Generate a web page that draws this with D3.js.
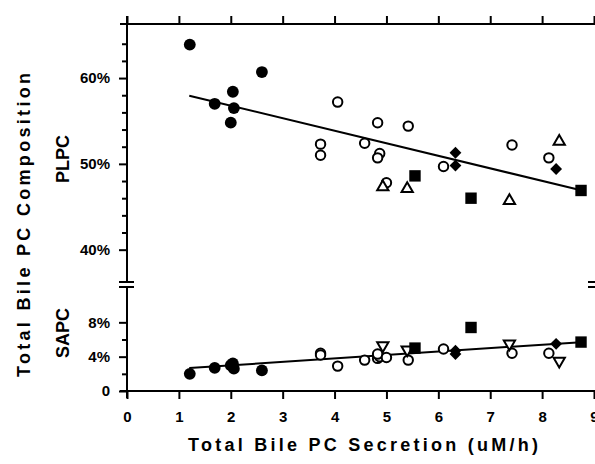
<!DOCTYPE html>
<html lang="en">
<head>
<meta charset="UTF-8">
<title>Bile PC composition vs secretion</title>
<script src="https://d3js.org/d3.v7.min.js"></script>
<style>
    body { margin: 0; background: #fff; overflow: hidden; }
    svg { display: block; font-family: "Liberation Sans", Arial, sans-serif; }
    .tick text { font-weight: bold; font-size: 15px; fill: #000; }
    .tick line { stroke: #000; stroke-width: 2px; }
    .lbl { font-weight: bold; fill: #000; }
</style>
</head>
<body>
<script>
// values: x = secretion (uM/h), plpc / sapc in %
const circleX    = [1.21, 1.69, 2.04, 2.06, 2.00, 2.60];
const circlePLPC = [63.9, 57.0, 58.4, 56.5, 54.8, 60.7];
const circleSAPC = [2.0, 2.7, 3.2, 2.6, 3.0, 2.4];

const openX    = [3.73, 3.73, 4.06, 4.58, 4.83, 4.87, 4.83, 5.00, 5.42, 6.10, 7.42, 8.13];
const openPLPC = [52.3, 51.0, 57.2, 52.4, 54.8, 51.2, 50.7, 47.8, 54.4, 49.7, 52.2, 50.7];
const openSAPC = [4.4, 4.2, 2.9, 3.6, 3.8, 4.0, 4.3, 3.9, 3.6, 4.9, 4.4, 4.4];

const triX    = [4.93, 5.40, 7.37, 8.33];
const triPLPC = [47.3, 47.1, 45.7, 52.6];
const triSAPC = [5.3, 4.8, 5.5, 3.5];

const squareX    = [5.55, 6.63, 8.75];
const squarePLPC = [48.6, 46.0, 46.9];
const squareSAPC = [5.0, 7.4, 5.7];

const diamondX    = [6.33, 6.33, 8.27];
const diamondPLPC = [51.3, 49.8, 49.4];
const diamondSAPC = [4.7, 4.3, 5.5];

// fitted lines: [intercept, slope], drawn over fitRange
const fitPLPC = [59.7, -1.46];
const fitSAPC = [2.19, 0.40];
const fitRange = [1.2, 8.75];

const xTicks = [0, 1, 2, 3, 4, 5, 6, 7, 8, 9];
const plpcMajor = [40, 50, 60];
const plpcMinor = [42, 44, 46, 48, 52, 54, 56, 58, 62, 64];
const sapcMajor = [0, 4, 8];
const sapcMinor = [2, 6];

const width = 595, height = 464;
const svg = d3.select("body").append("svg")
    .attr("width", width).attr("height", height);

const x = d3.scaleLinear().domain([0, 9]).range([127, 594]);
const yTop = d3.scaleLinear().domain([36, 66.3]).range([284, 24]);
const yBot = d3.scaleLinear().domain([0, 12]).range([391, 288]);

const topY = 24, breakA = 282, breakB = 287, baseY = 391;
const axisX = x(0);

// ---- axes ----
function tidy(g) { g.select(".domain").remove(); }

svg.append("g").attr("transform", `translate(${axisX},0)`)
    .call(d3.axisLeft(yTop).tickValues(plpcMajor).tickSize(8).tickPadding(9).tickFormat(d => d + "%"))
    .call(tidy);
svg.append("g").attr("transform", `translate(${axisX},0)`)
    .call(d3.axisLeft(yTop).tickValues(plpcMinor).tickSize(5).tickFormat(""))
    .call(tidy);
svg.append("g").attr("transform", `translate(${axisX},0)`)
    .call(d3.axisLeft(yBot).tickValues(sapcMajor).tickSize(8).tickPadding(9).tickFormat(d => d === 0 ? "0" : d + "%"))
    .call(tidy);
svg.append("g").attr("transform", `translate(${axisX},0)`)
    .call(d3.axisLeft(yBot).tickValues(sapcMinor).tickSize(5).tickFormat(""))
    .call(tidy);

svg.append("g").attr("transform", `translate(0,${baseY})`)
    .call(d3.axisBottom(x).tickValues(xTicks).tickSize(8).tickPadding(12).tickFormat(d3.format("d")))
    .call(tidy);
svg.append("g").attr("transform", `translate(0,${topY})`)
    .call(d3.axisTop(x).tickValues(xTicks).tickSize(8).tickFormat(""))
    .call(tidy);

const ax = svg.append("g").attr("stroke", "#000").attr("stroke-width", 2);
ax.append("line").attr("x1", axisX).attr("x2", axisX).attr("y1", topY - 8).attr("y2", breakA);
ax.append("line").attr("x1", axisX).attr("x2", axisX).attr("y1", breakB).attr("y2", baseY + 7);
ax.append("line").attr("x1", axisX - 7).attr("x2", width).attr("y1", topY).attr("y2", topY);
ax.append("line").attr("x1", axisX - 7).attr("x2", width).attr("y1", baseY).attr("y2", baseY);
[breakA, breakB].forEach(b => {
    ax.append("line").attr("x1", axisX - 8).attr("x2", axisX + 7).attr("y1", b).attr("y2", b);
    ax.append("line").attr("x1", width - 7).attr("x2", width).attr("y1", b).attr("y2", b);
});

// ---- fitted lines ----
function fitLine(fit, y) {
    svg.append("line")
        .attr("x1", x(fitRange[0])).attr("y1", y(fit[0] + fit[1] * fitRange[0]))
        .attr("x2", x(fitRange[1])).attr("y2", y(fit[0] + fit[1] * fitRange[1]))
        .attr("stroke", "#000").attr("stroke-width", 2);
}
fitLine(fitPLPC, yTop);
fitLine(fitSAPC, yBot);

// ---- markers ----
const marks = [
    { xs: openX, top: openPLPC, bot: openSAPC, type: d3.symbolCircle, size: 70, filled: false, spin: 0 },
    { xs: triX, top: triPLPC, bot: triSAPC, type: d3.symbolTriangle, size: 55, filled: false, spin: 0, flipBottom: true },
    { xs: circleX, top: circlePLPC, bot: circleSAPC, type: d3.symbolCircle, size: 110, filled: true, spin: 0 },
    { xs: diamondX, top: diamondPLPC, bot: diamondSAPC, type: d3.symbolSquare, size: 70, filled: true, spin: 45 },
    { xs: squareX, top: squarePLPC, bot: squareSAPC, type: d3.symbolSquare, size: 130, filled: true, spin: 0 }
];

marks.forEach(m => {
    const path = d3.symbol().type(m.type).size(m.size)();
    [["top", yTop, m.spin], ["bot", yBot, m.spin + (m.flipBottom ? 180 : 0)]].forEach(([key, y, rot]) => {
        svg.append("g").selectAll("path")
            .data(m.xs.map((v, i) => [v, m[key][i]]))
            .join("path")
            .attr("d", path)
            .attr("transform", d => `translate(${x(d[0])},${y(d[1])}) rotate(${rot})`)
            .attr("fill", m.filled ? "#000" : "#fff")
            .attr("stroke", "#000")
            .attr("stroke-width", m.filled ? 0 : 2);
    });
});

// ---- titles ----
svg.append("text").attr("class", "lbl")
    .attr("transform", "translate(30,225) rotate(-90)")
    .attr("text-anchor", "middle").attr("font-size", 18)
    .attr("textLength", 304).attr("lengthAdjust", "spacing")
    .text("Total Bile PC Composition");
svg.append("text").attr("class", "lbl")
    .attr("transform", "translate(69,159) rotate(-90)")
    .attr("text-anchor", "middle").attr("font-size", 18)
    .text("PLPC");
svg.append("text").attr("class", "lbl")
    .attr("transform", "translate(69,333) rotate(-90)")
    .attr("text-anchor", "middle").attr("font-size", 18)
    .text("SAPC");
svg.append("text").attr("class", "lbl")
    .attr("x", 363).attr("y", 451)
    .attr("text-anchor", "middle").attr("font-size", 18)
    .attr("textLength", 350).attr("lengthAdjust", "spacing")
    .text("Total Bile PC Secretion (uM/h)");
</script>
</body>
</html>
